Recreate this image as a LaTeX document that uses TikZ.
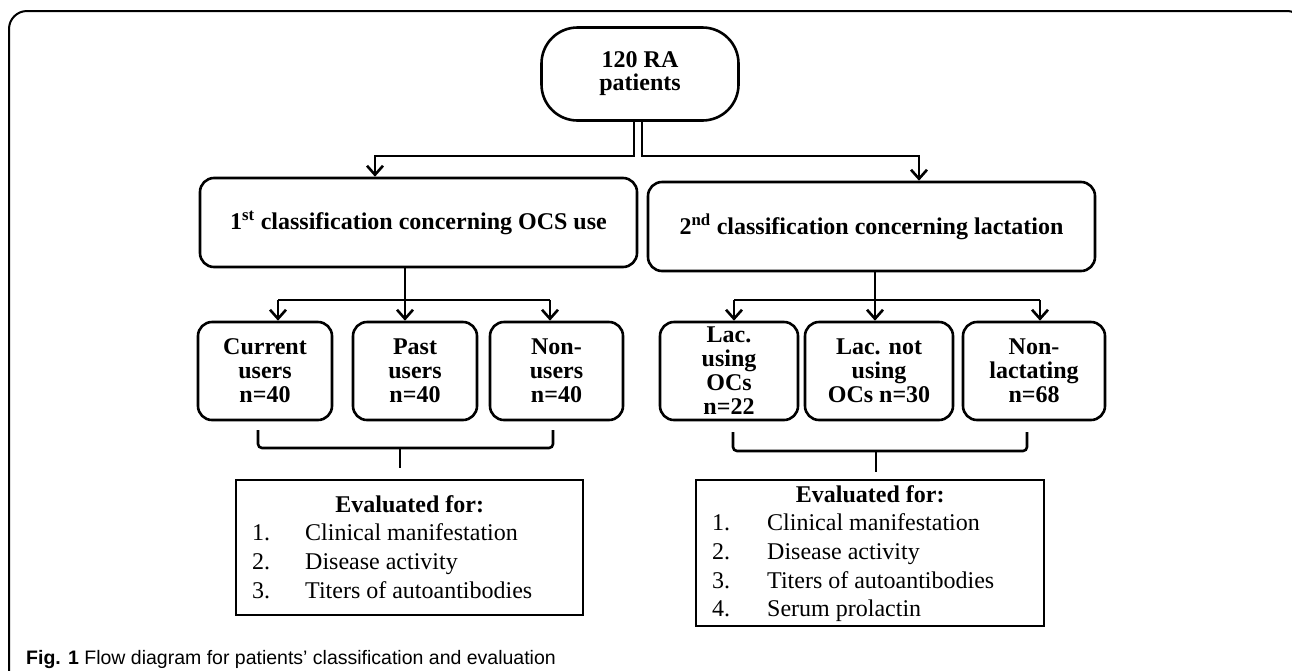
\documentclass[tikz,border=0pt]{standalone}
\usepackage{fontspec}
\setmainfont{Liberation Serif}
\newfontfamily\capfont{Liberation Sans}
\usetikzlibrary{arrows.meta}
\begin{document}
\begin{tikzpicture}[x=1pt,y=-1pt,
  box/.style={draw,line width=2.6pt,rounded corners=14pt,inner sep=0pt,align=center,
    font=\bfseries\fontsize{24}{24}\selectfont},
  evbox/.style={draw,line width=2.6pt,inner sep=0pt},
  evtext/.style={inner sep=0pt,font=\fontsize{24}{28.7}\selectfont},
  arr/.style={line width=2.6pt,-{Straight Barb[length=9pt,width=16pt]}},
  conn/.style={line width=2.6pt},
  brace/.style={line width=2.6pt,rounded corners=4pt}]
\useasboundingbox (0,0) rectangle (1292,670);
\clip (0,0) rectangle (1292,670);
% outer frame
\draw[line width=2pt,rounded corners=18pt] (9,700) -- (9,11) -- (1305,11) -- (1305,700);
% top node
\node[box,rounded corners=36pt,minimum width=197pt,minimum height=93pt,
  font=\bfseries\fontsize{24}{23}\selectfont] (top) at (640,74) {120 RA\\patients};
% classification boxes
\node[box,minimum width=437pt,minimum height=89pt] (c1) at (418.5,222.5) {1\textsuperscript{st} classification concerning OCS use};
\node[box,minimum width=447pt,minimum height=89pt] (c2) at (871.5,226.5) {2\textsuperscript{nd} classification concerning lactation};
% small boxes left
\node[box,minimum width=134pt,minimum height=98pt] (cur) at (265,371) {Current\\users\\n=40};
\node[box,minimum width=124pt,minimum height=98pt] (past) at (415,371) {Past\\users\\n=40};
\node[box,minimum width=133pt,minimum height=98pt] (non) at (556.5,371) {Non-\\users\\n=40};
% small boxes right
\node[box,minimum width=138pt,minimum height=98pt] (lac) at (729,371) {Lac.\\using\\OCs\\n=22};
\node[box,minimum width=148pt,minimum height=98pt] (lacn) at (879,371) {Lac. not\\using\\OCs n=30};
\node[box,minimum width=142pt,minimum height=98pt] (nonl) at (1034,371) {Non-\\lactating\\n=68};
% evaluation boxes
\node[evbox,minimum width=347pt,minimum height=135pt] (evL) at (409.5,547.5) {};
\node[evbox,minimum width=348pt,minimum height=146pt] (evR) at (870,553) {};
\node[evtext,anchor=base west] (evLt) at (252,512) {\begin{tabular}[t]{@{}p{53pt}@{}p{262pt}@{}}
\multicolumn{2}{@{}c@{}}{\textbf{Evaluated for:}}\\
1.&Clinical manifestation\\
2.&Disease activity\\
3.&Titers of autoantibodies
\end{tabular}};
\node[evtext,anchor=base west] (evRt) at (712,502) {\begin{tabular}[t]{@{}p{55pt}@{}p{261pt}@{}}
\multicolumn{2}{@{}c@{}}{\textbf{Evaluated for:}}\\
1.&Clinical manifestation\\
2.&Disease activity\\
3.&Titers of autoantibodies\\
4.&Serum prolactin
\end{tabular}};
% connectors from top
\draw[arr] (top.south -| 634,0) -- (634,156) -- (375,156) -- (375,0 |- c1.north);
\draw[arr] (top.south -| 642,0) -- (642,156) -- (919,156) -- (919,0 |- c2.north);
% left branches
\coordinate (jL) at (405,300);
\draw[conn] (c1.south -| jL) -- (jL);
\draw[conn] (278,300) -- (550,300);
\draw[arr] (278,300) -- (278,0 |- cur.north);
\draw[arr] (jL) -- (jL |- past.north);
\draw[arr] (550,300) -- (550,0 |- non.north);
% right branches
\coordinate (jR) at (875,300);
\draw[conn] (c2.south -| jR) -- (jR);
\draw[conn] (734,300) -- (1040,300);
\draw[arr] (734,300) -- (734,0 |- lac.north);
\draw[arr] (jR) -- (jR |- lacn.north);
\draw[arr] (1040,300) -- (1040,0 |- nonl.north);
% braces
\draw[brace] (258,430) -- (258,448) -- (553,448) -- (553,430);
\coordinate (bL) at (400,448);
\coordinate (bLe) at (400,468);
\draw[conn] (bL) -- (bLe);
\draw[brace] (733,432) -- (733,451) -- (1027,451) -- (1027,432);
\coordinate (bR) at (876,451);
\coordinate (bRe) at (876,472);
\draw[conn] (bR) -- (bRe);
% caption
\node[anchor=base west,inner sep=0pt] (cap) at (26,664) {\capfont\fontsize{19.5}{19.5}\selectfont\textbf{Fig. 1} Flow diagram for patients’ classification and evaluation};
\end{tikzpicture}
\end{document}
